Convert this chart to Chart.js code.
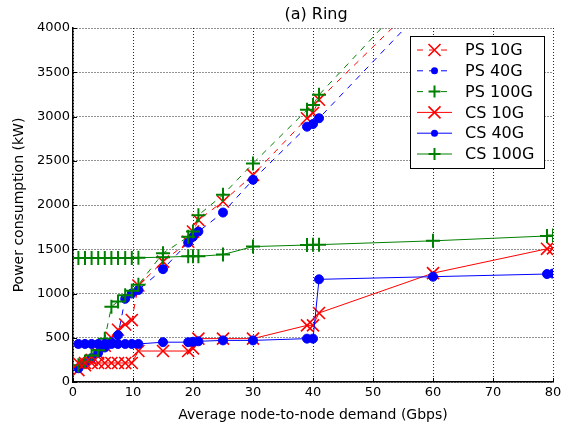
<!DOCTYPE html>
<html><head><meta charset="utf-8">
<script src="https://cdn.jsdelivr.net/npm/chart.js@4/dist/chart.umd.min.js"></script>
<style>html,body{margin:0;padding:0;background:#fff;}</style>
</head><body>
<canvas id="c" width="573" height="424" style="width:573px;height:424px;display:block"></canvas>
<script>
// Shared demand values (Gbps)
const demand = [0.9, 2.0, 3.1, 4.2, 5.3, 6.4, 7.5, 8.7, 9.8, 10.9, 15, 19.2, 20, 20.9, 25, 30, 39, 40, 41, 60, 79, 80];
// Packet switching (dashed)
const ps10G  = [135, 190, 250, 320, 410, 500, 590, 650, 700, 1090, 1360, 1585, 1700, 1830, 2040, 2340, 2980, 3040, 3190, 4450, 5800, 5870];
const ps40G  = [155, 210, 270, 330, 390, 450, 530, 940, 1000, 1040, 1275, 1575, 1640, 1700, 1915, 2285, 2885, 2915, 2980, 4330, 5650, 5720];
const ps100G = [190, 230, 300, 360, 490, 850, 910, 980, 1030, 1100, 1455, 1640, 1700, 1885, 2115, 2470, 3075, 3130, 3245, 4620, 6000, 6070];
// Circuit switching (solid)
const cs10G  = [215, 215, 215, 215, 215, 215, 215, 215, 215, 350, 350, 350, 380, 490, 490, 490, 640, 640, 780, 1230, 1505, 1510];
const cs40G  = [430, 430, 430, 430, 430, 430, 430, 430, 430, 430, 450, 450, 455, 460, 470, 470, 490, 490, 1160, 1190, 1220, 1225];
const cs100G = [1400, 1400, 1400, 1400, 1400, 1400, 1400, 1400, 1400, 1405, 1410, 1420, 1420, 1420, 1440, 1530, 1548, 1550, 1552, 1595, 1650, 1655];

const xTicks = [0, 10, 20, 30, 40, 50, 60, 70, 80];
const yTicks = [0, 500, 1000, 1500, 2000, 2500, 3000, 3500, 4000];
const seriesNames = ['PS 10G', 'PS 40G', 'PS 100G', 'CS 10G', 'CS 40G', 'CS 100G'];

const RED = '#ff0000', BLUE = '#0000ff', GREEN = '#008000';
const toPts = arr => demand.map((d, i) => ({x: d, y: arr[i]}));

function ds(label, data, color, dashed, style, order) {
  const m = {crossRot: {r: 8.5, w: 1.6}, circle: {r: 4.5, w: 1}, cross: {r: 7, w: 2}}[style];
  return {
    label, data: toPts(data), borderColor: color, backgroundColor: color,
    borderWidth: 1, borderDash: dashed ? [6, 6] : [], pointStyle: style,
    pointRadius: m.r, pointBorderWidth: m.w, pointBorderColor: color, pointBackgroundColor: color,
    pointHoverRadius: m.r, tension: 0, fill: false, order, _dashed: dashed, _style: style
  };
}

const datasets = [
  ds(seriesNames[0], ps10G, RED, true, 'crossRot', 6),
  ds(seriesNames[1], ps40G, BLUE, true, 'circle', 5),
  ds(seriesNames[2], ps100G, GREEN, true, 'cross', 4),
  ds(seriesNames[3], cs10G, RED, false, 'crossRot', 3),
  ds(seriesNames[4], cs40G, BLUE, false, 'circle', 2),
  ds(seriesNames[5], cs100G, GREEN, false, 'cross', 1)
];

function marker(ctx, style, x, y, r, w, color) {
  ctx.save();
  ctx.strokeStyle = color; ctx.fillStyle = color; ctx.lineWidth = w; ctx.setLineDash([]);
  ctx.beginPath();
  if (style === 'circle') { ctx.arc(x, y, r, 0, Math.PI * 2); ctx.fill(); }
  else if (style === 'cross') { ctx.moveTo(x - r, y); ctx.lineTo(x + r, y); ctx.moveTo(x, y - r); ctx.lineTo(x, y + r); ctx.stroke(); }
  else { const o = r; ctx.moveTo(x - o, y - o); ctx.lineTo(x + o, y + o); ctx.moveTo(x - o, y + o); ctx.lineTo(x + o, y - o); ctx.stroke(); }
  ctx.restore();
}

const extras = {
  id: 'extras',
  afterDraw(chart) {
    const ctx = chart.ctx, a = chart.chartArea;
    const xs = chart.scales.x, ys = chart.scales.y;
    ctx.save();
    // inner ticks
    ctx.strokeStyle = '#000'; ctx.lineWidth = 1; ctx.setLineDash([]);
    ctx.beginPath();
    xTicks.forEach(t => { const px = Math.round(xs.getPixelForValue(t)) + 0.5; ctx.moveTo(px, a.bottom); ctx.lineTo(px, a.bottom - 4); });
    yTicks.forEach(t => { const py = Math.round(ys.getPixelForValue(t)) + 0.5; ctx.moveTo(a.left, py); ctx.lineTo(a.left + 4, py); });
    ctx.stroke();
    // title
    ctx.fillStyle = '#000';
    ctx.font = '16px "DejaVu Sans"';
    ctx.textAlign = 'center'; ctx.textBaseline = 'middle';
    ctx.fillText('(a) Ring', (a.left + a.right) / 2 + 3, 15);
    // legend
    const bx = 410, by = 36, bw = 134, bh = 132;
    ctx.fillStyle = '#fff'; ctx.fillRect(bx, by, bw, bh);
    ctx.strokeStyle = '#000'; ctx.lineWidth = 1; ctx.strokeRect(bx + 0.5, by + 0.5, bw, bh);
    ctx.font = '16px "DejaVu Sans"'; ctx.textAlign = 'left'; ctx.textBaseline = 'middle';
    datasets.forEach((d, i) => {
      const y = by + 14 + i * 20.8;
      ctx.strokeStyle = d.borderColor; ctx.lineWidth = 1;
      ctx.setLineDash(d._dashed ? [6, 6] : []);
      ctx.beginPath(); ctx.moveTo(bx + 7, y); ctx.lineTo(bx + 42, y); ctx.stroke();
      const ms = {crossRot: [6, 1.6], circle: [3.5, 1], cross: [6, 2]}[d._style];
      marker(ctx, d._style, bx + 24.5, y, ms[0], ms[1], d.borderColor);
      ctx.fillStyle = '#000';
      ctx.fillText(d.label, bx + 55, y + 1);
    });
    ctx.restore();
  }
};

const gridOpts = {color: 'rgba(0,0,0,0.85)', lineWidth: 1, drawTicks: false};
const borderOpts = {display: true, color: '#000', width: 1.5, dash: [1, 2]};

new Chart(document.getElementById('c'), {
  type: 'line',
  data: {datasets},
  options: {
    responsive: false, animation: false, devicePixelRatio: 1,
    layout: {padding: {left: 0, right: 20, top: 28, bottom: 0}},
    plugins: {legend: {display: false}, tooltip: {enabled: false}, title: {display: false}},
    elements: {line: {borderJoinStyle: 'miter'}},
    scales: {
      x: {
        type: 'linear', min: 0, max: 80,
        afterFit: s => { s.height = 42; },
        afterBuildTicks: s => { s.ticks = xTicks.map(v => ({value: v})); },
        ticks: {color: '#000', font: {family: 'DejaVu Sans', size: 13}, padding: 3, maxRotation: 0, callback: v => String(v)},
        grid: gridOpts,
        border: borderOpts,
        title: {display: true, text: 'Average node-to-node demand (Gbps)', color: '#000', font: {family: 'DejaVu Sans', size: 14}, padding: {top: 4, bottom: 0}}
      },
      y: {
        type: 'linear', min: 0, max: 4000,
        afterFit: s => { s.width = 73; },
        afterBuildTicks: s => { s.ticks = yTicks.map(v => ({value: v})); },
        ticks: {color: '#000', font: {family: 'DejaVu Sans', size: 13}, padding: 3, callback: v => String(v)},
        grid: gridOpts,
        border: borderOpts,
        title: {display: true, text: 'Power consumption (kW)', color: '#000', font: {family: 'DejaVu Sans', size: 14}, padding: {top: 11, bottom: 0}}
      }
    }
  },
  plugins: [extras]
});
</script>
</body></html>
